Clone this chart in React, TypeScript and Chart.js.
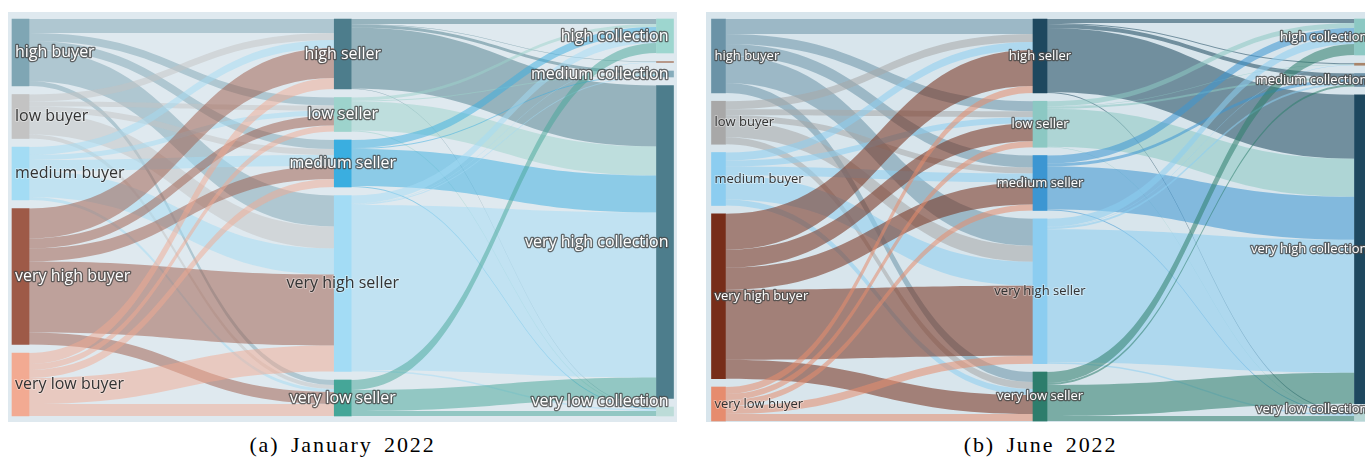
import React, { useEffect, useRef } from "react";
import { Chart, registerables } from "chart.js";

Chart.register(...registerables);

// Node levels for each column of the flow diagram
const buyerLevels = ["high buyer", "low buyer", "medium buyer", "very high buyer", "very low buyer"];
const sellerLevels = ["high seller", "low seller", "medium seller", "very high seller", "very low seller"];
const collectionLevels = [
  "high collection",
  "low collection",
  "medium collection",
  "very high collection",
  "very low collection",
];

// January 2022 — rows: buyer level, columns: seller level
const janBuyerToSeller = [
  [14, 8, 9, 31, 5],
  [7, 5, 6, 22, 4],
  [8, 5, 11, 26, 3],
  [30, 10, 13, 71, 12],
  [11, 6, 8, 26, 12],
];
// January 2022 — rows: seller level, columns: collection level
const janSellerToCollection = [
  [5, 0.5, 3, 61, 0.5],
  [3, 0, 1, 29, 1],
  [8, 0, 1, 37, 1],
  [8, 0.5, 1, 165, 1.5],
  [10, 0, 0, 21, 5],
];

// June 2022 — rows: buyer level, columns: seller level
const junBuyerToSeller = [
  [15, 10, 12, 27, 10],
  [8, 6, 6, 16, 7],
  [8, 6, 9, 24, 6],
  [36, 18, 22, 70, 19],
  [7, 6, 6, 8, 7],
];
// June 2022 — rows: seller level, columns: collection level
const junSellerToCollection = [
  [4, 1, 4, 64, 1],
  [5, 0.5, 2, 38, 0.5],
  [8, 0, 3, 43, 1],
  [8, 0.5, 2, 133, 1.5],
  [11, 0, 2, 31, 5],
];

const columnLevels = [buyerLevels, sellerLevels, collectionLevels];

type PanelStyle = {
  background: string;
  nodeColors: string[][];
  darkLabels: string[];
  nodeWidth: number;
  nodePadding: number;
  fontSize: number;
  rightLabelInset: number;
  linkAlpha: number;
  padding: { left: number; right: number; top: number; bottom: number };
};

const janStyle: PanelStyle = {
  background: "#dfe9ef",
  nodeColors: [
    ["#7fa6b4", "#c3c3c3", "#a3dcf4", "#9e5a47", "#f2aa92"],
    ["#4d7d8c", "#9dd3cc", "#3aaee0", "#a3dcf5", "#45a698"],
    ["#9dd6cf", "#b08874", "#86acbb", "#4d7d8c", "#bcdcd8"],
  ],
  darkLabels: ["low buyer", "medium buyer", "very low buyer", "very high seller"],
  nodeWidth: 17,
  nodePadding: 8.5,
  fontSize: 16,
  rightLabelInset: 5,
  linkAlpha: 0.5,
  padding: { left: 12.5, right: 12, top: 7, bottom: 6 },
};

const junStyle: PanelStyle = {
  background: "#d8e5ec",
  nodeColors: [
    ["#6b93a7", "#a8a8a8", "#8ccdf0", "#772d19", "#e68c6e"],
    ["#1e485f", "#8cc8c3", "#3c96d2", "#8ccdf0", "#2d7d6c"],
    ["#8cc8c3", "#a8846a", "#6f93a8", "#1e485f", "#b6d6d4"],
  ],
  darkLabels: ["low buyer", "medium buyer", "very low buyer", "very high seller"],
  nodeWidth: 14,
  nodePadding: 8.25,
  fontSize: 13,
  rightLabelInset: 1,
  linkAlpha: 0.55,
  padding: { left: 12.5, right: 13.5, top: 7, bottom: 1 },
};

const sum = (a: number[]) => a.reduce((s, v) => s + v, 0);

function hexToRgba(hex: string, alpha: number) {
  const n = parseInt(hex.slice(1), 16);
  return `rgba(${(n >> 16) & 255},${(n >> 8) & 255},${n & 255},${alpha})`;
}

// Stack the nodes of every column from the top, each as tall as its larger of in/out flow
function layoutSankey(columns: string[][], stages: number[][][], pad: number) {
  const nodeValues = columns.map((labels, c) =>
    labels.map((_, i) => {
      const out = c < stages.length ? sum(stages[c][i]) : 0;
      const inn = c > 0 ? sum(stages[c - 1].map((row) => row[i])) : 0;
      return Math.max(out, inn);
    })
  );
  const nodeStarts = nodeValues.map((col) => {
    let y = 0;
    return col.map((v) => {
      const s = y;
      y += v + pad;
      return s;
    });
  });
  const extent = Math.max(...nodeValues.map((col) => sum(col) + pad * (col.length - 1)));
  return { nodeValues, nodeStarts, extent };
}

function SankeyPanel({
  stages,
  style,
  width,
  height,
}: {
  stages: number[][][];
  style: PanelStyle;
  width: number;
  height: number;
}) {
  const ref = useRef<HTMLCanvasElement>(null);

  useEffect(() => {
    const canvas = ref.current!;
    const { nodeValues, nodeStarts, extent } = layoutSankey(columnLevels, stages, style.nodePadding);

    const nodeData: { x: number; y: [number, number] }[] = [];
    const nodeFill: string[] = [];
    columnLevels.forEach((labels, c) =>
      labels.forEach((_, i) => {
        nodeData.push({ x: c, y: [nodeStarts[c][i], nodeStarts[c][i] + nodeValues[c][i]] });
        nodeFill.push(style.nodeColors[c][i]);
      })
    );

    const sankeyPlugin = {
      id: "sankeyLinks",
      beforeDatasetsDraw(chart: any) {
        const ctx = chart.ctx as CanvasRenderingContext2D;
        const xs = chart.scales.x;
        const ys = chart.scales.y;
        const half = style.nodeWidth / 2;
        ctx.save();
        stages.forEach((matrix, c) => {
          const x0 = xs.getPixelForValue(c) + half;
          const x1 = xs.getPixelForValue(c + 1) - half;
          const xm = (x0 + x1) / 2;
          matrix.forEach((row, i) => {
            row.forEach((v, j) => {
              if (v <= 0) return;
              const s0 = nodeStarts[c][i] + sum(row.slice(0, j));
              const t0 = nodeStarts[c + 1][j] + sum(matrix.slice(0, i).map((r) => r[j]));
              const ya = ys.getPixelForValue(s0);
              const yb = ys.getPixelForValue(s0 + v);
              const yc = ys.getPixelForValue(t0);
              const yd = ys.getPixelForValue(t0 + v);
              ctx.beginPath();
              ctx.moveTo(x0, ya);
              ctx.bezierCurveTo(xm, ya, xm, yc, x1, yc);
              ctx.lineTo(x1, yd);
              ctx.bezierCurveTo(xm, yd, xm, yb, x0, yb);
              ctx.closePath();
              ctx.fillStyle = hexToRgba(style.nodeColors[c][i], style.linkAlpha);
              ctx.fill();
            });
          });
        });
        ctx.restore();
      },
      afterDatasetsDraw(chart: any) {
        const ctx = chart.ctx as CanvasRenderingContext2D;
        const xs = chart.scales.x;
        const ys = chart.scales.y;
        const area = chart.chartArea;
        const half = style.nodeWidth / 2;
        const fs = style.fontSize;
        const last = columnLevels.length - 1;
        ctx.save();
        ctx.font = `${fs}px "Open Sans"`;
        ctx.textBaseline = "middle";
        ctx.lineJoin = "round";
        columnLevels.forEach((labels, c) =>
          labels.forEach((text, i) => {
            if (nodeValues[c][i] < 3) return;
            const cx = xs.getPixelForValue(c);
            let x = cx;
            if (c === 0) {
              x = cx - half + 3;
              ctx.textAlign = "left";
            } else if (c === last) {
              x = cx + half - style.rightLabelInset;
              ctx.textAlign = "right";
            } else {
              ctx.textAlign = "center";
            }
            let y = ys.getPixelForValue(nodeStarts[c][i] + nodeValues[c][i] / 2);
            y = Math.min(Math.max(y, area.top + fs * 0.7), area.bottom - fs * 0.9);
            if (style.darkLabels.includes(text)) {
              ctx.lineWidth = 2;
              ctx.strokeStyle = "rgba(255,255,255,0.35)";
              ctx.strokeText(text, x, y);
              ctx.fillStyle = "#333333";
              ctx.fillText(text, x, y);
            } else {
              ctx.lineWidth = 2.6;
              ctx.strokeStyle = "rgba(72,72,72,0.8)";
              ctx.strokeText(text, x, y);
              ctx.fillStyle = "#ffffff";
              ctx.fillText(text, x, y);
            }
          })
        );
        ctx.restore();
      },
    };

    const chart = new Chart(canvas, {
      type: "bar",
      data: {
        datasets: [
          {
            data: nodeData as any,
            backgroundColor: nodeFill,
            borderWidth: 0,
            barThickness: style.nodeWidth,
            clip: false as any,
          },
        ],
      },
      options: {
        animation: false,
        responsive: false,
        events: [],
        layout: { padding: style.padding },
        plugins: { legend: { display: false }, tooltip: { enabled: false } },
        scales: {
          x: {
            type: "linear",
            min: 0,
            max: columnLevels.length - 1,
            offset: false,
            display: false,
          },
          y: { type: "linear", min: 0, max: extent, reverse: true, display: false },
        },
      },
      plugins: [sankeyPlugin],
    });
    return () => chart.destroy();
  }, [stages, style]);

  return (
    <canvas
      ref={ref}
      width={width}
      height={height}
      style={{ display: "block", width, height, background: style.background }}
    />
  );
}

const janStages = [janBuyerToSeller, janSellerToCollection];
const junStages = [junBuyerToSeller, junSellerToCollection];

const captionStyle: React.CSSProperties = {
  position: "absolute",
  top: 431,
  width: 669,
  textAlign: "center",
  fontFamily: '"Liberation Serif", serif',
  fontSize: 22,
  letterSpacing: 1.9,
  wordSpacing: 4,
  lineHeight: "28px",
  color: "#000",
};

export default function App() {
  return (
    <div
      style={{
        position: "fixed",
        left: 0,
        top: 0,
        width: 1365,
        height: 461,
        overflow: "hidden",
        background: "#ffffff",
      }}
    >
      <div style={{ position: "absolute", left: 8, top: 12 }}>
        <SankeyPanel stages={janStages} style={janStyle} width={669} height={410} />
      </div>
      <div style={{ position: "absolute", left: 706, top: 12 }}>
        <SankeyPanel stages={junStages} style={junStyle} width={669} height={410} />
      </div>
      <div style={{ ...captionStyle, left: 8 }}>(a) January 2022</div>
      <div style={{ ...captionStyle, left: 706 }}>(b) June 2022</div>
    </div>
  );
}
